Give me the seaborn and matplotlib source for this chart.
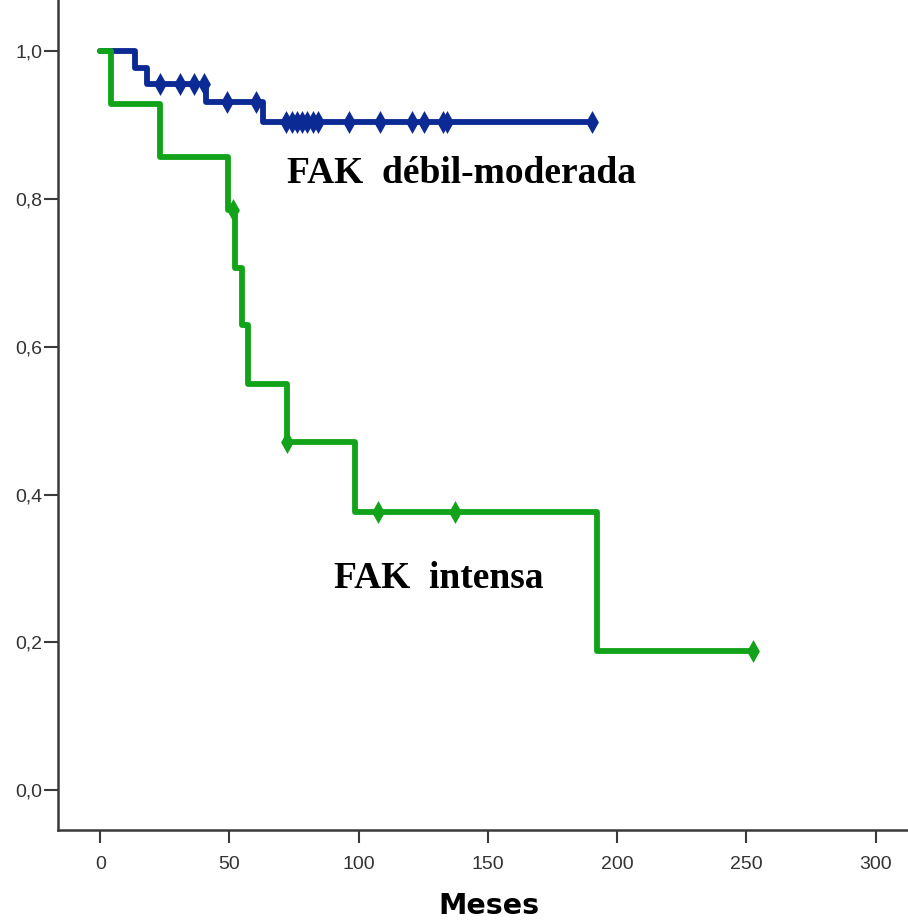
import numpy as np
import pandas as pd
import matplotlib
matplotlib.use("Agg")
import matplotlib.pyplot as plt
import seaborn as sns

# ---- data ----
group_names = ["FAK  débil-moderada", "FAK  intensa"]

blue_times = [0, 13.5, 18, 41, 63]
blue_surv = [1.0, 0.978, 0.956, 0.931, 0.905]
blue_end = 190.1
blue_censors = [23, 31, 36.3, 40.2, 48.9, 60.2, 71.9, 74.1, 76, 78, 79.9, 82.4,
                84.4, 96.4, 108.2, 120.5, 125.3, 132.7, 134, 190.1]

green_times = [0, 4, 23, 49.5, 52, 55, 57, 72.3, 98.4, 192]
green_surv = [1.0, 0.929, 0.857, 0.786, 0.707, 0.629, 0.550, 0.471, 0.377, 0.188]
green_end = 252.5
green_censors = [51.4, 72.3, 107.3, 137.3, 252.5]

x_ticks = [0, 50, 100, 150, 200, 250, 300]
y_ticks = [0.0, 0.2, 0.4, 0.6, 0.8, 1.0]
y_ticklabels = ["0,0", "0,2", "0,4", "0,6", "0,8", "1,0"]

colors = {"FAK  débil-moderada": "#0b2a94", "FAK  intensa": "#12a31a"}


def step_frame(name, times, surv, end):
    xs = list(times) + [end]
    ys = list(surv) + [surv[-1]]
    return pd.DataFrame({"t": xs, "s": ys, "g": name})


def censor_frame(name, times, surv, cens):
    idx = np.searchsorted(np.array(times), np.array(cens), side="right") - 1
    return pd.DataFrame({"t": cens, "s": np.array(surv)[idx], "g": name})


steps = pd.concat([step_frame(group_names[0], blue_times, blue_surv, blue_end),
                   step_frame(group_names[1], green_times, green_surv, green_end)])
cens = pd.concat([censor_frame(group_names[0], blue_times, blue_surv, blue_censors),
                  censor_frame(group_names[1], green_times, green_surv, green_censors)])

sns.set_style("white")

W, H = 908, 921
fig = plt.figure(figsize=(W / 100, H / 100), dpi=100)

left_px, bottom_px, right_px, top_px = 57.9, 830, 920.7, -10
ax = fig.add_axes([left_px / W, (H - bottom_px) / H,
                   (right_px - left_px) / W, (bottom_px - top_px) / H])

x0_px, xs_px = 100.2, 2.585
y0_px, ys_px = 790.0, 738.5
ax.set_xlim((left_px - x0_px) / xs_px, (right_px - x0_px) / xs_px)
ax.set_ylim((y0_px - bottom_px) / ys_px, (y0_px - top_px) / ys_px)

diamond = [(0, 1), (0.56, 0), (0, -1), (-0.56, 0), (0, 1)]

for name, z in [(group_names[0], 2), (group_names[1], 3)]:
    d = steps[steps.g == name]
    sns.lineplot(data=d, x="t", y="s", ax=ax, color=colors[name], lw=4.2,
                 drawstyle="steps-post", estimator=None, sort=False,
                 legend=False, zorder=z)
    c = cens[cens.g == name]
    sns.scatterplot(data=c, x="t", y="s", ax=ax, color=colors[name],
                    marker=diamond, s=16.5 ** 2, linewidth=0, legend=False,
                    zorder=z + 0.5)

ax.text(72.3, 0.822, group_names[0], fontsize=27, fontweight="bold",
        family="Liberation Serif", color="black", ha="left", va="baseline")
ax.text(90.4, 0.273, group_names[1], fontsize=27, fontweight="bold",
        family="Liberation Serif", color="black", ha="left", va="baseline")

ax.set_xticks(x_ticks)
ax.set_xticklabels([str(v) for v in x_ticks])
ax.set_yticks(y_ticks)
ax.set_yticklabels(y_ticklabels)

for side in ["top", "right"]:
    ax.spines[side].set_visible(False)
for side in ["left", "bottom"]:
    ax.spines[side].set_color("#3a3a3a")
    ax.spines[side].set_linewidth(1.8)

ax.tick_params(axis="y", direction="out", length=10, width=1.5, pad=1,
               colors="#3a3a3a", labelsize=14, labelcolor="#333333", left=True)
ax.tick_params(axis="x", direction="out", length=9.5, width=1.5, pad=9,
               colors="#3a3a3a", labelsize=14, labelcolor="#333333", bottom=True)
for lab in ax.get_xticklabels() + ax.get_yticklabels():
    lab.set_family("Liberation Sans")

ax.set_xlabel("Meses", fontsize=20.5, fontweight="bold", family="DejaVu Sans",
              color="black", labelpad=14)
ax.set_ylabel("")

fig.savefig("out.png", dpi=100)
